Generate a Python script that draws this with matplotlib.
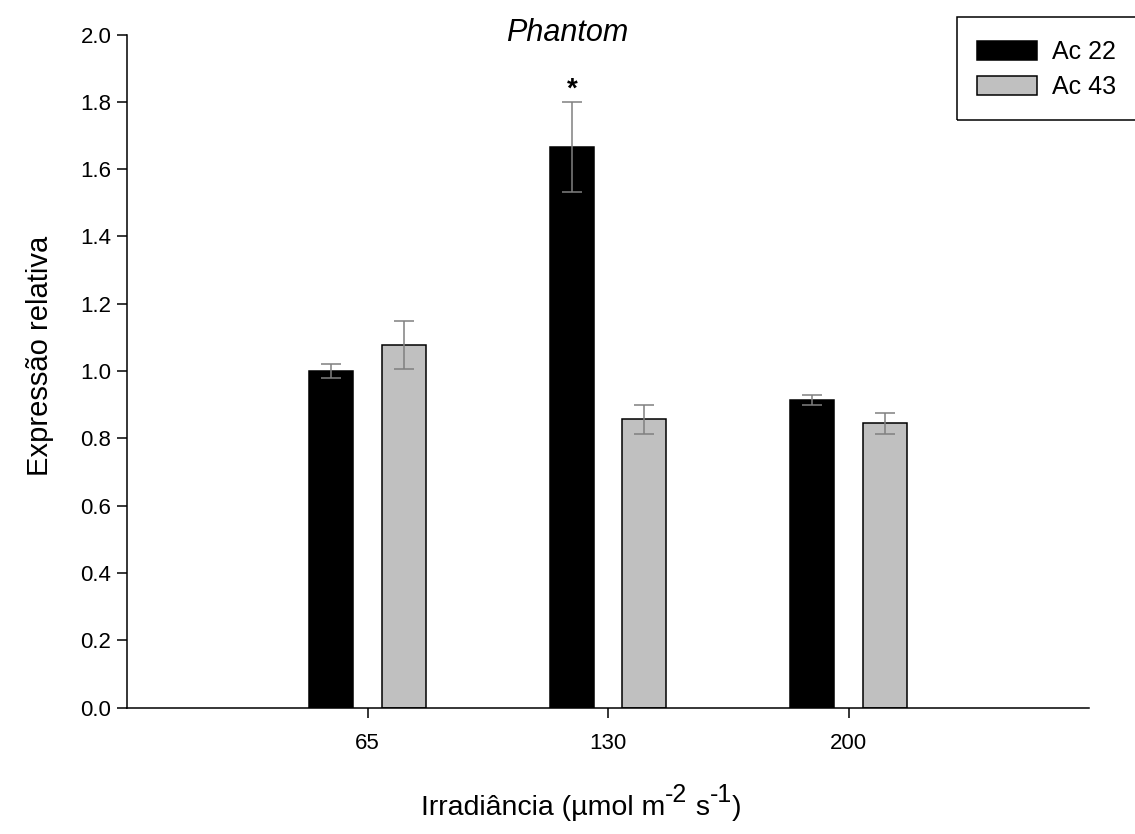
import matplotlib
matplotlib.use("Agg")
import matplotlib.pyplot as plt
from matplotlib.patches import Rectangle
import numpy as np

plt.rcParams['font.family'] = ['Liberation Sans', 'DejaVu Sans']

# Data
irradiance = ['65', '130', '200']
ac22_mean = [1.00, 1.665, 0.913]
ac22_err = [0.02, 0.133, 0.015]
ac43_mean = [1.078, 0.857, 0.845]
ac43_err = [0.072, 0.043, 0.031]
series_names = ['Ac 22', 'Ac 43']
significant = [False, True, False]   # asterisk above Ac 22 bars

W, H = 1135, 834
fig = plt.figure(figsize=(W / 100, H / 100), dpi=100)
ax = fig.add_axes([127 / W, 1 - 707.5 / H, (1089 - 127) / W, (707.5 - 34.5) / H])

x = np.arange(1, len(irradiance) + 1)
width = 0.183
offset = 0.15

err_kw = dict(ecolor='#808080', elinewidth=1.1, capsize=7.2, capthick=1.1)
b1 = ax.bar(x - offset, ac22_mean, width, color='black', edgecolor='black',
            linewidth=1.1, label=series_names[0], zorder=2)
b2 = ax.bar(x + offset, ac43_mean, width, color='#c0c0c0', edgecolor='black',
            linewidth=1.1, label=series_names[1], zorder=2)
ax.errorbar(x - offset, ac22_mean, yerr=ac22_err, fmt='none', zorder=3, **err_kw)
ax.errorbar(x + offset, ac43_mean, yerr=ac43_err, fmt='none', zorder=3, **err_kw)

for xi, m, e, s in zip(x, ac22_mean, ac22_err, significant):
    if s:
        ax.text(xi - offset, m + e + 0.038, '*', ha='center', va='center',
                fontsize=20, fontweight='bold')

ax.set_xlim(0, 4)
ax.set_ylim(0, 2.0)
ax.set_xticks(x)
ax.set_xticklabels(irradiance)
ax.set_yticks(np.arange(0, 2.01, 0.2))
ax.set_yticklabels([f'{v:.1f}' for v in np.arange(0, 2.01, 0.2)])

for side in ['top', 'right']:
    ax.spines[side].set_visible(False)
for side in ['left', 'bottom']:
    ax.spines[side].set_linewidth(1.1)
ax.tick_params(axis='both', direction='out', length=7.2, width=1.1, labelsize=16)
ax.tick_params(axis='y', pad=4)
ax.tick_params(axis='x', pad=11)

fig.text(567 / W, 1 - 33 / H, 'Phantom', ha='center', va='center',
         fontsize=22, fontstyle='italic')

fig.text(40 / W, 1 - 356 / H, 'Expressão relativa', rotation=90,
         ha='center', va='center', fontsize=21)

# x-axis label assembled piece by piece so the unit exponents sit raised
renderer = fig.canvas.get_renderer()
pieces = [('Irradiância (µmol m', 20.5, 0), ('-2', 18, 13), (' s', 20.5, 0),
          ('-1', 18, 13), (')', 20.5, 0)]
cursor = 421.0
baseline = 1 - 815 / H
for txt, size, rise in pieces:
    t = fig.text(cursor / W, baseline + rise / H, txt, ha='left',
                 va='baseline', fontsize=size)
    cursor += t.get_window_extent(renderer).width

leg = fig.legend(handles=[b1, b2], labels=series_names, loc='upper left',
                 bbox_to_anchor=(977 / W, 1 - 40 / H), frameon=False,
                 fontsize=18, borderpad=0, borderaxespad=0,
                 handlelength=2.4, handleheight=0.8, handletextpad=0.6,
                 labelspacing=0.45)

fig.add_artist(Rectangle((957 / W, 1 - 120 / H), (1140 - 957) / W, (120 - 16.7) / H,
                         transform=fig.transFigure, fill=False,
                         edgecolor='black', linewidth=1.1))

fig.savefig('out.png', dpi=100)
